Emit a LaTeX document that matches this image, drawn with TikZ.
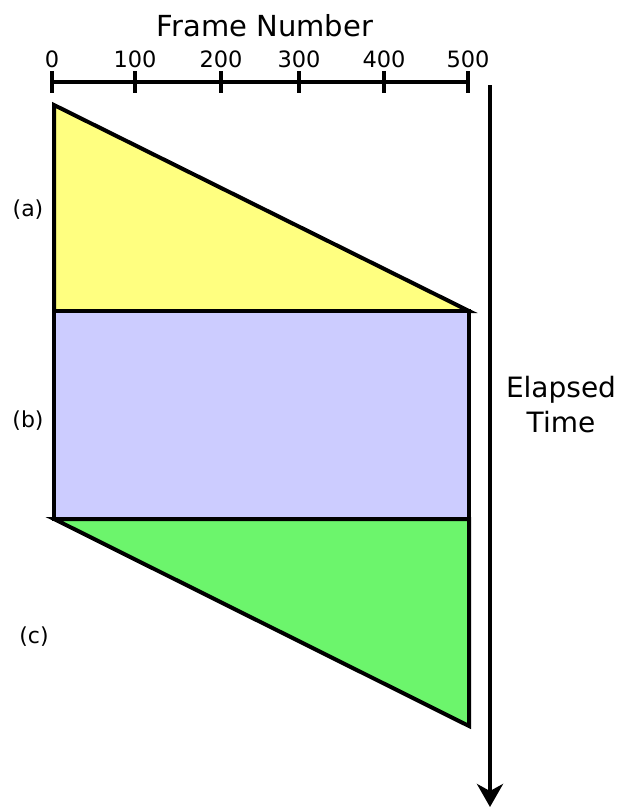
\documentclass[tikz,border=0pt]{standalone}
\usepackage{fontspec}
\setmainfont{DejaVu Sans}
\usetikzlibrary{arrows.meta}
\definecolor{cyellow}{RGB}{255,255,128}
\definecolor{cblue}{RGB}{204,204,255}
\definecolor{cgreen}{RGB}{108,245,108}
\begin{document}
\begin{tikzpicture}[x=1pt,y=-1pt,
  region/.style={draw=black,line width=4pt},
  axisline/.style={line width=4pt},
  ticklab/.style={font=\fontsize{22.5}{26}\selectfont,inner sep=0pt,anchor=base},
  lab/.style={font=\fontsize{22}{26}\selectfont,inner sep=0pt},
  big/.style={font=\fontsize{28}{35}\selectfont,inner sep=0pt,anchor=base}]
\useasboundingbox (0,0) rectangle (621,807);
% corners
\coordinate (TL) at (54,105);
\coordinate (ML) at (54,311);
\coordinate (MR) at (469,311);
\coordinate (BL) at (54,519);
\coordinate (BR) at (469,519);
\coordinate (ER) at (469,726);
% shapes
\draw[region,fill=cyellow] (TL) -- (MR) -- (ML) -- cycle;
\draw[region,fill=cblue] (ML) rectangle (BR);
\draw[region,fill=cgreen] (BL) -- (BR) -- (ER) -- cycle;
% axis
\coordinate (A0) at (52,82);
\coordinate (A5) at (468,82);
\draw[axisline] (A0) -- (A5);
\foreach \x/\v in {52/0,135/100,221/200,299/300,384/400,468/500}{
  \draw[axisline] (\x,71) -- (\x,93);
  \node[ticklab] (t\v) at (\x,67) {\v};
}
\node[big,font=\fontsize{29}{35}\selectfont] (title) at (265,36) {Frame Number};
% time arrow
\coordinate (T0) at (490,85);
\coordinate (T1) at (490,807);
\draw[axisline,-{Stealth[length=23pt,width=26pt,inset=7pt]}] (T0) -- (T1);
\node[big] (elapsed1) at (561,397) {Elapsed};
\node[big] (elapsed2) at (561,432) {Time};
% labels
\node[lab] (la) at (28,210) {(a)};
\node[lab] (lb) at (28,421) {(b)};
\node[lab] (lc) at (34,637) {(c)};
\end{tikzpicture}
\end{document}
